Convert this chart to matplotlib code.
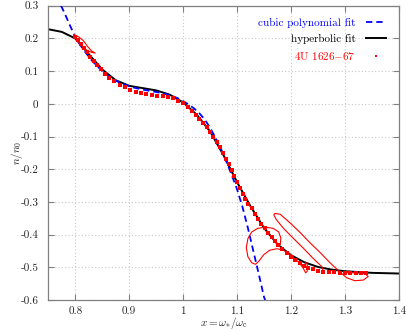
import numpy as np
import matplotlib
matplotlib.use("Agg")
from matplotlib import pyplot as plt

# hyperbolic fit (black)
hyp_x = [0.75, 0.775, 0.80, 0.825, 0.85, 0.875, 0.90, 0.925, 0.95, 0.975, 1.00, 1.025,
         1.05, 1.075, 1.10, 1.125, 1.15, 1.175, 1.20, 1.225, 1.25, 1.275, 1.30, 1.35, 1.40]
hyp_y = [0.228, 0.220, 0.200, 0.152, 0.105, 0.072, 0.055, 0.048, 0.041, 0.028, 0.004, -0.033,
         -0.085, -0.158, -0.240, -0.314, -0.380, -0.430, -0.463, -0.485, -0.499, -0.507, -0.512, -0.517, -0.519]

# cubic polynomial fit (blue)
cub_x = [0.7735, 0.78, 0.79, 0.80, 0.81, 0.82, 0.83, 0.84, 0.85, 0.86, 0.87, 0.88, 0.89, 0.90,
         0.91, 0.92, 0.93, 0.94, 0.95, 0.96, 0.97, 0.98, 0.99, 1.00, 1.01, 1.02, 1.03, 1.04,
         1.05, 1.06, 1.07, 1.08, 1.09, 1.10, 1.11, 1.12, 1.13, 1.14, 1.15, 1.152]
cub_y = [0.300, 0.278, 0.240, 0.205, 0.178, 0.155, 0.134, 0.116, 0.100, 0.087, 0.076, 0.067, 0.060, 0.054,
         0.049, 0.045, 0.042, 0.039, 0.036, 0.033, 0.029, 0.024, 0.017, 0.008, -0.002, -0.014, -0.029, -0.048,
         -0.074, -0.104, -0.138, -0.176, -0.218, -0.262, -0.316, -0.380, -0.450, -0.520, -0.592, -0.600]

# 4U 1626-67 data points
obs_x = [0.800, 0.805, 0.810, 0.816, 0.822, 0.828, 0.834, 0.840, 0.847, 0.855, 0.863, 0.872, 0.882,
         0.892, 0.902, 0.912, 0.922, 0.932, 0.942, 0.952, 0.962, 0.972, 0.982, 0.991, 1.000, 1.008,
         1.016, 1.023, 1.030, 1.037, 1.044, 1.050, 1.056, 1.062, 1.068, 1.074, 1.080, 1.085, 1.090,
         1.095, 1.100, 1.105, 1.110, 1.115, 1.121, 1.127, 1.133, 1.139, 1.145, 1.152, 1.158, 1.164,
         1.170, 1.176, 1.184, 1.192, 1.200, 1.208, 1.216, 1.224, 1.232, 1.240, 1.250, 1.260, 1.270,
         1.280, 1.290, 1.300, 1.310, 1.320, 1.330, 1.338]
obs_y = [0.205, 0.195, 0.183, 0.170, 0.157, 0.144, 0.131, 0.118, 0.105, 0.092, 0.080, 0.069, 0.058,
         0.050, 0.043, 0.037, 0.032, 0.029, 0.027, 0.025, 0.023, 0.021, 0.017, 0.010, 0.001, -0.010,
         -0.021, -0.033, -0.046, -0.059, -0.072, -0.086, -0.101, -0.117, -0.133, -0.150, -0.168, -0.185, -0.203,
         -0.221, -0.240, -0.258, -0.276, -0.291, -0.305, -0.320, -0.336, -0.352, -0.367, -0.381, -0.394, -0.408,
         -0.420, -0.432, -0.445, -0.457, -0.469, -0.479, -0.488, -0.495, -0.501, -0.506, -0.510, -0.513, -0.514,
         -0.515, -0.516, -0.517, -0.517, -0.518, -0.518, -0.518]

# sparse parts of the track (thin red line)
hook_x = [0.797, 0.806, 0.815, 0.823, 0.830, 0.837, 0.831, 0.823, 0.815, 0.807, 0.800]
hook_y = [0.212, 0.205, 0.193, 0.175, 0.162, 0.155, 0.157, 0.162, 0.172, 0.187, 0.202]

loop1_x = [1.180, 1.181, 1.177, 1.167, 1.152, 1.138, 1.127, 1.120, 1.117, 1.120, 1.127, 1.134,
           1.141, 1.149, 1.160, 1.174, 1.187, 1.200, 1.212, 1.222, 1.227, 1.230, 1.230, 1.227]
loop1_y = [-0.430, -0.410, -0.392, -0.381, -0.377, -0.381, -0.392, -0.412, -0.440, -0.468, -0.486, -0.491,
           -0.480, -0.462, -0.448, -0.443, -0.449, -0.463, -0.481, -0.501, -0.517, -0.512, -0.492, -0.484]

loop2_x = [1.260, 1.257, 1.241, 1.223, 1.204, 1.186, 1.173, 1.168, 1.170, 1.180, 1.198, 1.217,
           1.235, 1.254, 1.272, 1.291, 1.303, 1.318, 1.334, 1.343, 1.337, 1.321, 1.300]
loop2_y = [-0.513, -0.498, -0.473, -0.442, -0.411, -0.381, -0.355, -0.340, -0.335, -0.338, -0.364, -0.394,
           -0.425, -0.455, -0.486, -0.515, -0.532, -0.541, -0.539, -0.528, -0.520, -0.517, -0.516]

xticks = [0.8, 0.9, 1.0, 1.1, 1.2, 1.3, 1.4]
xticklabels = ["0.8", "0.9", "1", "1.1", "1.2", "1.3", "1.4"]
yticks = [-0.6, -0.5, -0.4, -0.3, -0.2, -0.1, 0.0, 0.1, 0.2, 0.3]
yticklabels = ["-0.6", "-0.5", "-0.4", "-0.3", "-0.2", "-0.1", "0", "0.1", "0.2", "0.3"]

plt.rcParams['font.family'] = ['cmr10', 'DejaVu Serif']
plt.rcParams['mathtext.fontset'] = 'cm'
plt.rcParams['axes.unicode_minus'] = False
plt.rcParams['font.size'] = 8

fig = plt.figure(figsize=(4.07, 3.32), dpi=100)
ax = fig.add_axes([0.1187, 0.0964, 0.8616, 0.8864])

ax.grid(True, color='#c8c8c8', linestyle=(0, (1, 2)), linewidth=0.8)
ax.set_axisbelow(True)

ax.plot(cub_x, cub_y, color='#0000ff', lw=1.3, dashes=(3.5, 2.2), label='cubic polynomial fit', zorder=3)
ax.plot(hyp_x, hyp_y, color='black', lw=1.4, label='hyperbolic fit', zorder=2)
for lx, ly in [(hook_x, hook_y), (loop1_x, loop1_y), (loop2_x, loop2_y)]:
    ax.plot(lx, ly, color='red', lw=0.8, zorder=4)
ax.plot(obs_x, obs_y, 's', color='red', ms=2.4, mew=0, label=r'4U 1626$-$67', zorder=4)

ax.set_xlim(0.75, 1.4)
ax.set_ylim(-0.6, 0.3)
ax.set_xticks(xticks)
ax.set_xticklabels(xticklabels)
ax.set_yticks(yticks)
ax.set_yticklabels(yticklabels)
ax.tick_params(direction='in', length=4, width=0.8, color='#808080', top=True, right=True,
               labelcolor='#222222', labelsize=8)
ax.tick_params(axis='y', pad=7)
ax.tick_params(axis='x', pad=5)
for s in ax.spines.values():
    s.set_color('#808080')
    s.set_linewidth(0.9)

ax.set_xlabel(r'$x = \omega_{*}/\omega_{\rm c}$', color='#222222')
ax.set_ylabel(r'$n/n_0$', color='#222222')
ax.xaxis.set_label_coords(0.5, -0.052)
ax.yaxis.set_label_coords(-0.066, 0.5)

leg = ax.legend(loc='upper right', bbox_to_anchor=(0.975, 0.975), frameon=False, markerfirst=False,
                handlelength=1.8, handletextpad=0.9, labelspacing=0.55, numpoints=1, markerscale=0.8,
                labelcolor='linecolor', fontsize=8, borderaxespad=0.0)
for t in leg.get_texts():
    t.set_ha('right')

fig.savefig("out.png", dpi=100)
